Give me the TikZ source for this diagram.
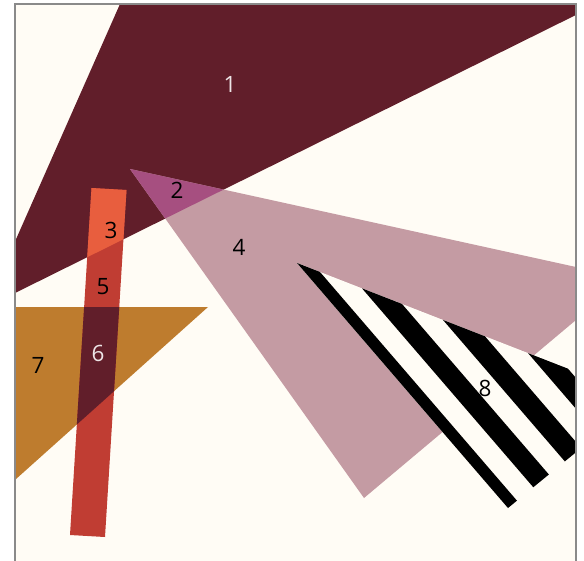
\documentclass[tikz,border=0pt]{standalone}
\usepackage{fontspec}
\setmainfont{Open Sans}
\definecolor{cream}{HTML}{FFFCF5}
\definecolor{maroon}{HTML}{611E2A}
\definecolor{pinkish}{HTML}{C49BA3}
\definecolor{purplish}{HTML}{A64F80}
\definecolor{orangered}{HTML}{E85E3E}
\definecolor{brickred}{HTML}{C03D33}
\definecolor{ochre}{HTML}{BE7C2E}
\definecolor{framegray}{HTML}{8A8A8A}
\definecolor{lightlabel}{HTML}{EDE4E6}
\tikzset{
  lbl/.style={font=\fontsize{22.5}{22.5}\selectfont, inner sep=0pt, text=black},
  lbllight/.style={lbl, text=lightlabel},
}
\begin{document}
\begin{tikzpicture}[x=1pt,y=-1pt]
\useasboundingbox (0,0) rectangle (584,560);
\fill[white] (0,0) rectangle (584,560);
% frame
\fill[cream] (15,4) rectangle (576,600);
\begin{scope}
\clip (15.5,4.5) rectangle (575.5,600);
% shape 1
\fill[maroon] (120,4) -- (590,4) -- (590,8) -- (10,295.5) -- (10,252.8) -- cycle;
% shape 4
\fill[pinkish] (130,169) -- (626,278) -- (364,498) -- cycle;
% shape 2 (overlap)
\fill[purplish] (130,169) -- (223.6,189.6) -- (165.2,218.5) -- cycle;
% shape 7
\fill[ochre] (10,307) -- (208,307) -- (10,484.4) -- cycle;
% bar
\fill[brickred] (91.5,188) -- (126.5,190) -- (105,537) -- (70,535) -- cycle;
\begin{scope}
\clip (120,4) -- (590,4) -- (590,8) -- (10,295.5) -- (10,252.8) -- cycle;
\fill[orangered] (91.5,188) -- (126.5,190) -- (105,537) -- (70,535) -- cycle;
\end{scope}
\begin{scope}
\clip (10,307) -- (208,307) -- (10,484.4) -- cycle;
\fill[maroon] (91.5,188) -- (126.5,190) -- (105,537) -- (70,535) -- cycle;
\end{scope}
% shape 8 striped triangle
\begin{scope}
\clip (297,263) -- (642.5,397.7) -- (508,508) -- cycle;
\fill[cream] (297,263) -- (642.5,397.7) -- (508,508) -- cycle;
\foreach \a/\b in {297/320, 362/402, 443/485, 528/568, 610/650} {
  \fill[black] (\a,{263+0.39*(\a-297)}) -- (\b,{263+0.39*(\b-297)}) -- ++(422,490)
     -- ({\a+422},{263+0.39*(\a-297)+490}) -- cycle;
}
\end{scope}
\end{scope}
\draw[framegray, line width=1.5pt] (15,600) -- (15,4) -- (576,4) -- (576,600);
% labels
\node[lbllight] (l1) at (230,84) {1};
\node[lbl] (l2) at (177,190) {2};
\node[lbl] (l3) at (111,230) {3};
\node[lbl] (l4) at (239,247) {4};
\node[lbl] (l5) at (103,287) {5};
\node[lbllight] (l6) at (98,353) {6};
\node[lbl] (l7) at (38,365) {7};
\node[lbl] (l8) at (485,388) {8};
\end{tikzpicture}
\end{document}
